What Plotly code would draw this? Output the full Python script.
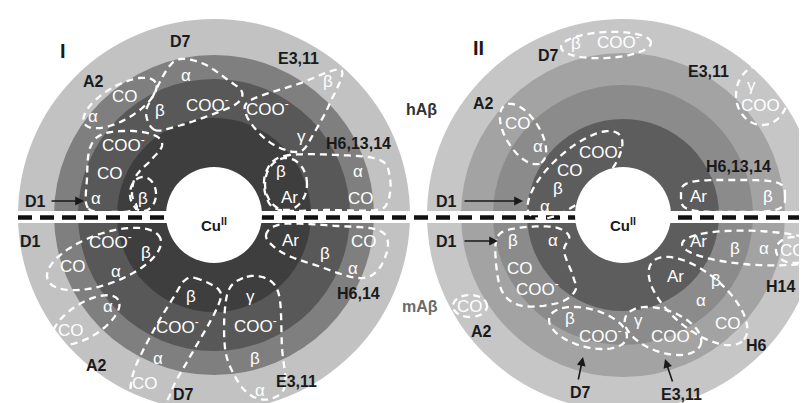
import numpy as np
import plotly.graph_objects as go

W, H = 807, 403

# ---------------- diagram structure ----------------
panel_names = ["I", "II"]
panel_cx = [206, 615]
panel_cy = [207, 207]
ring_radii = [[196, 160, 136, 97], [196, 162, 130, 96]]
ring_colors = [["#c2c2c2", "#7f7f7f", "#585858", "#3e3e3e"],
               ["#c6c6c6", "#a3a3a3", "#8b8b8b", "#5d5d5d"]]
cu_radius = [48, 48]

# white (residue-group) labels
white_text = [
    # panel I, hAβ
    "CO", "α",
    "α", "β", "COO<sup>-</sup>",
    "COO<sup>-</sup>", "γ", "β",
    "β", "Ar", "α", "CO",
    "COO<sup>-</sup>", "CO", "α", "β",
    # panel I, mAβ
    "COO<sup>-</sup>", "β", "CO", "α",
    "α", "CO",
    "β", "COO<sup>-</sup>", "α", "CO",
    "γ", "COO<sup>-</sup>", "β", "α",
    "Ar", "β", "CO", "α",
    # panel II, hAβ
    "β", "COO<sup>-</sup>",
    "γ", "COO",
    "CO", "α",
    "COO<sup>-</sup>", "CO", "β", "α",
    "Ar", "β",
    # panel II, mAβ
    "β", "α", "CO", "COO<sup>-</sup>",
    "CO",
    "β", "COO<sup>-</sup>",
    "γ", "COO<sup>-</sup>",
    "Ar", "β", "α", "CO",
    "Ar", "β", "α", "CO",
]
white_x = [
    117, 85,
    178, 152, 199,
    259, 293, 320,
    273, 281, 350, 353,
    115, 102, 88, 135,
    102, 138, 65, 108,
    100, 63,
    183, 169, 150, 137,
    242, 247, 247, 252,
    282, 317, 356, 345,
    568, 610,
    743, 752,
    510, 530,
    592, 562, 550, 537,
    690, 760,
    505, 545, 512, 529,
    462,
    562, 592,
    630, 664,
    667, 708, 693, 720,
    690, 727, 756, 785,
]
white_y = [
    88, 108,
    67, 102, 96,
    100, 128, 73,
    163, 189, 163, 190,
    136, 165, 190, 190,
    233, 244, 258, 263,
    298, 322,
    288, 318, 350, 375,
    288, 317, 350, 382,
    232, 245, 233, 260,
    35, 33,
    77, 97,
    115, 138,
    143, 162, 180, 198,
    188, 188,
    232, 232, 260, 280,
    298,
    310, 327,
    312, 327,
    268, 272, 292, 315,
    233, 240, 240, 242,
]

# black residue labels
black_text = ["D7", "A2", "E3,11", "H6,13,14", "D1",
              "D1", "A2", "D7", "E3,11", "H6,14",
              "D7", "E3,11", "A2", "H6,13,14", "D1",
              "D1", "A2", "H14", "H6", "D7", "E3,11"]
black_x = [172, 85, 290, 350, 27,
           22, 88, 175, 288, 350,
           540, 700, 475, 730, 438,
           438, 473, 772, 748, 572, 673]
black_y = [33, 73, 50, 135, 193,
           233, 357, 386, 373, 285,
           47, 63, 95, 158, 193,
           233, 323, 278, 337, 384, 386]

# ---------------- outlines (dashed white) ----------------
ellipses = [  # cx, cy, a, b, angle(deg, counter-clockwise)
    (112, 95, 41, 17, 30),
    (135, 186, 13, 17, 0),
    (278, 176, 21, 26, 0),
    (96, 251, 60, 25, 20),
    (78, 312, 38, 17, 32),
    (598, 37, 45, 13, 3),
    (754, 87, 26, 30, 0),
    (515, 126, 34, 17, -58),
    (567, 167, 60, 24, 42),
    (462, 298, 17, 11, 0),
    (580, 320, 40, 19, -15),
    (655, 323, 40, 21, -20),
    (690, 293, 60, 28, -40),
    (750, 240, 76, 17, -3),
    (786, 242, 18, 13, 0),
]
blobs = [
    [(147, 122), (138, 105), (146, 86), (160, 60), (173, 51), (196, 56), (220, 72),
     (234, 84), (228, 96), (200, 108), (170, 118)],
    [(243, 92), (290, 76), (333, 62), (322, 95), (306, 125), (293, 143), (272, 140),
     (252, 126), (238, 106)],
    [(276, 148), (330, 147), (372, 152), (382, 170), (380, 193), (368, 202), (320, 202),
     (272, 202), (258, 188), (258, 164)],
    [(80, 200), (79, 170), (82, 140), (95, 126), (125, 123), (148, 128), (154, 138),
     (143, 152), (128, 168), (124, 186), (128, 201), (105, 204)],
    [(187, 270), (211, 282), (209, 300), (187, 340), (168, 373), (156, 396), (134, 401),
     (123, 386), (127, 360), (147, 320), (167, 287), (176, 273)],
    [(235, 270), (219, 287), (217, 340), (229, 372), (244, 388), (262, 391), (277, 378),
     (274, 340), (271, 287), (257, 270)],
    [(258, 228), (275, 216), (330, 218), (370, 222), (380, 237), (370, 262), (350, 270),
     (310, 258), (275, 245)],
    [(490, 228), (510, 220), (545, 219), (561, 228), (556, 243), (565, 268), (567, 283),
     (550, 295), (515, 298), (495, 285), (488, 255)],
]
superellipses = [(725, 188, 52, 16)]


def to_path(x, y):
    return "M " + " L ".join(f"{a:.1f},{b:.1f}" for a, b in zip(x, y)) + " Z"


def ellipse_path(cx, cy, a, b, ang, n=90):
    t = np.linspace(0, 2 * np.pi, n, endpoint=False)
    th = np.radians(ang)
    x = cx + a * np.cos(t) * np.cos(th) - b * np.sin(t) * np.sin(th)
    y = cy - (a * np.cos(t) * np.sin(th) + b * np.sin(t) * np.cos(th))
    return to_path(x, y)


def super_path(cx, cy, a, b, p=4, n=120):
    t = np.linspace(0, 2 * np.pi, n, endpoint=False)
    c, s = np.cos(t), np.sin(t)
    x = cx + a * np.sign(c) * np.abs(c) ** (2 / p)
    y = cy + b * np.sign(s) * np.abs(s) ** (2 / p)
    return to_path(x, y)


def blob_path(pts, n=14):
    P = np.array(pts, dtype=float)
    m = len(P)
    out = []
    for i in range(m):
        p0, p1, p2, p3 = P[(i - 1) % m], P[i], P[(i + 1) % m], P[(i + 2) % m]
        for t in np.linspace(0, 1, n, endpoint=False):
            out.append(0.5 * (2 * p1 + (-p0 + p2) * t + (2 * p0 - 5 * p1 + 4 * p2 - p3) * t * t
                              + (-p0 + 3 * p1 - 3 * p2 + p3) * t ** 3))
    out = np.array(out)
    return to_path(out[:, 0], out[:, 1])


shapes = []
# concentric rings
for k in range(2):
    cx, cy = panel_cx[k], panel_cy[k]
    for r, col in zip(ring_radii[k], ring_colors[k]):
        shapes.append(dict(type="circle", xref="x", yref="y", x0=cx - r, x1=cx + r,
                           y0=cy - r, y1=cy + r, fillcolor=col, line=dict(width=0), layer="below"))
# white separator band with black dashes
shapes.append(dict(type="rect", xref="x", yref="y", x0=0, x1=W, y0=203, y1=215,
                   fillcolor="white", line=dict(width=0)))
shapes.append(dict(type="line", xref="x", yref="y", x0=10, x1=W, y0=209.5, y1=209.5,
                   line=dict(color="#111111", width=4.5, dash="14px,8px")))
# Cu centres
for k in range(2):
    cx, cy, r = panel_cx[k], panel_cy[k], cu_radius[k]
    shapes.append(dict(type="circle", xref="x", yref="y", x0=cx - r, x1=cx + r,
                       y0=cy - r, y1=cy + r, fillcolor="white", line=dict(width=0)))

outline_style = dict(color="white", width=2.3, dash="7px,5px")
for e in ellipses:
    shapes.append(dict(type="path", xref="x", yref="y", path=ellipse_path(*e), line=outline_style))
for b in blobs:
    shapes.append(dict(type="path", xref="x", yref="y", path=blob_path(b), line=outline_style))
for s in superellipses:
    shapes.append(dict(type="path", xref="x", yref="y", path=super_path(*s), line=outline_style))

FONT = "Liberation Sans, Arial, sans-serif"
annotations = []
for t, x, y in zip(white_text, white_x, white_y):
    annotations.append(dict(x=x, y=y, xref="x", yref="y", text=t, showarrow=False,
                            font=dict(family=FONT, size=17, color="white")))
for t, x, y in zip(black_text, black_x, black_y):
    annotations.append(dict(x=x, y=y, xref="x", yref="y", text=f"<b>{t}</b>", showarrow=False,
                            font=dict(family=FONT, size=16, color="#1a1a1a")))
# panel numerals
for name, x, y in zip(panel_names, [55, 470], [43, 40]):
    annotations.append(dict(x=x, y=y, xref="x", yref="y", text=f"<b>{name}</b>", showarrow=False,
                            font=dict(family=FONT, size=20, color="#1a1a1a")))
# Cu labels
for k in range(2):
    annotations.append(dict(x=panel_cx[k], y=216, xref="x", yref="y",
                            text="<b>Cu<sup>II</sup></b>", showarrow=False,
                            font=dict(family=FONT, size=15, color="#1a1a1a")))
# species labels
annotations.append(dict(x=413, y=101, xref="x", yref="y", text="<b>hAβ</b>", showarrow=False,
                        font=dict(family=FONT, size=16, color="#333333")))
annotations.append(dict(x=412, y=298, xref="x", yref="y", text="<b>mAβ</b>", showarrow=False,
                        font=dict(family=FONT, size=16, color="#6a6a6a")))
# arrows (head x,y ; tail ax,ay)
arrow_heads = [(76, 193), (515, 193), (490, 233), (575, 349), (657, 351)]
arrow_tails = [(42, 193), (455, 193), (455, 233), (570, 373), (665, 375)]
for (hx, hy), (tx, ty) in zip(arrow_heads, arrow_tails):
    annotations.append(dict(x=hx, y=hy, ax=tx, ay=ty, xref="x", yref="y", axref="x", ayref="y",
                            text="", showarrow=True, arrowhead=2, arrowsize=1.1,
                            arrowwidth=1.6, arrowcolor="#1a1a1a"))

fig = go.Figure()
fig.update_layout(
    width=W, height=H, margin=dict(l=0, r=0, t=0, b=0),
    paper_bgcolor="white", plot_bgcolor="white",
    xaxis=dict(range=[0, W], visible=False, fixedrange=True),
    yaxis=dict(range=[H, 0], visible=False, fixedrange=True),
    shapes=shapes, annotations=annotations, showlegend=False,
)
fig.write_html("out.html")
